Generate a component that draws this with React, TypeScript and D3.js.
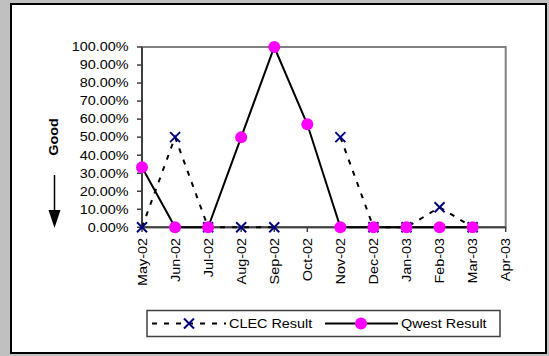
import React from "react";
import * as d3 from "d3";

const months = ["May-02", "Jun-02", "Jul-02", "Aug-02", "Sep-02", "Oct-02", "Nov-02", "Dec-02", "Jan-03", "Feb-03", "Mar-03", "Apr-03"];
const clecResult: (number | null)[] = [0, 50, 0, 0, 0, null, 50, 0, 0, 11.11, 0, null];
const qwestResult: (number | null)[] = [33.33, 0, 0, 50, 100, 57.14, 0, 0, 0, 0, 0, null];
const yTicks = [0, 10, 20, 30, 40, 50, 60, 70, 80, 90, 100];

const W = 549;
const H = 356;
const FONT = "'Liberation Sans', Arial, sans-serif";
const SX = 1.2;

export default function App() {
  const x = d3.scalePoint<string>().domain(months).range([142, 505.7]);
  const y = d3.scaleLinear().domain([0, 100]).range([227.3, 47]);

  const line = d3
    .line<[string, number | null]>()
    .defined((d) => d[1] != null)
    .x((d) => x(d[0]) as number)
    .y((d) => y(d[1] as number));

  const clecPts = months.map((m, i) => [m, clecResult[i]] as [string, number | null]);
  const qwestPts = months.map((m, i) => [m, qwestResult[i]] as [string, number | null]);

  const xMark = (cx: number, cy: number, key: string | number) => (
    <g key={key} stroke="#000080" strokeWidth={2}>
      <line x1={cx - 5} y1={cy - 5} x2={cx + 5} y2={cy + 5} />
      <line x1={cx - 5} y1={cy + 5} x2={cx + 5} y2={cy - 5} />
    </g>
  );

  const legY = 323.5;

  return (
    <svg
      width={W}
      height={H}
      style={{ position: "absolute", left: 0, top: 0, display: "block" }}
      fontFamily={FONT}
    >
      <rect x={0} y={0} width={W} height={H} fill="#C0C0C0" />
      <rect x={11} y={4} width={535} height={349} fill="#FFFFFF" stroke="#000" strokeWidth={2} />

      {/* plot area border */}
      <rect x={142} y={47} width={505.7 - 142} height={227.3 - 47} fill="none" stroke="#808080" strokeWidth={2} />

      {/* y axis */}
      <line x1={142} y1={47} x2={142} y2={227.3} stroke="#404040" strokeWidth={2} />
      {yTicks.map((t) => (
        <g key={t}>
          <line x1={137} x2={142} y1={y(t)} y2={y(t)} stroke="#404040" strokeWidth={1.5} />
          <text
            transform={`translate(128.5,${y(t)}) scale(${SX},1)`}
            textAnchor="end"
            dy="0.36em"
            fontSize={12}
            fill="#000"
          >
            {t.toFixed(2) + "%"}
          </text>
        </g>
      ))}

      {/* x axis */}
      <line x1={142} y1={227.3} x2={505.7} y2={227.3} stroke="#404040" strokeWidth={2} />
      {months.map((m) => (
        <g key={m}>
          <line x1={x(m)} x2={x(m)} y1={227.3} y2={232} stroke="#404040" strokeWidth={1.5} />
          <text
            transform={`translate(${(x(m) as number) + 4.5},238) rotate(-90) scale(${SX},1)`}
            textAnchor="end"
            fontSize={12}
            fill="#000"
          >
            {m}
          </text>
        </g>
      ))}

      {/* Good label and arrow */}
      <text
        transform={`translate(58,137) rotate(-90) scale(${SX},1)`}
        textAnchor="middle"
        fontSize={12}
        fontWeight="bold"
        fill="#000"
      >
        Good
      </text>
      <line x1={54.5} y1={175} x2={54.5} y2={212} stroke="#000" strokeWidth={1.5} />
      <polygon points="48.5,210 60.5,210 54.5,228" fill="#000" />

      {/* CLEC series */}
      <path d={line(clecPts) || ""} fill="none" stroke="#000" strokeWidth={2} strokeDasharray="5,7" />
      {clecPts.filter((d) => d[1] != null).map((d, i) => xMark(x(d[0]) as number, y(d[1] as number), "c" + i))}

      {/* Qwest series */}
      <path d={line(qwestPts) || ""} fill="none" stroke="#000" strokeWidth={2} />
      {qwestPts
        .filter((d) => d[1] != null)
        .map((d, i) => (
          <circle key={"q" + i} cx={x(d[0]) as number} cy={y(d[1] as number)} r={6} fill="#FF00FF" />
        ))}

      {/* legend */}
      <rect x={147} y={310.5} width={353} height={26} fill="#FFF" stroke="#404040" strokeWidth={1.5} />
      <line x1={152} x2={226} y1={legY} y2={legY} stroke="#000" strokeWidth={2} strokeDasharray="5,7" />
      {xMark(189, legY, "lx")}
      <text transform={`translate(229,${legY}) scale(${SX},1)`} dy="0.36em" fontSize={12} fill="#000">
        CLEC Result
      </text>
      <line x1={325} x2={398} y1={legY} y2={legY} stroke="#000" strokeWidth={2} />
      <circle cx={361} cy={legY} r={6} fill="#FF00FF" />
      <text transform={`translate(401,${legY}) scale(${SX},1)`} dy="0.36em" fontSize={12} fill="#000">
        Qwest Result
      </text>
    </svg>
  );
}
